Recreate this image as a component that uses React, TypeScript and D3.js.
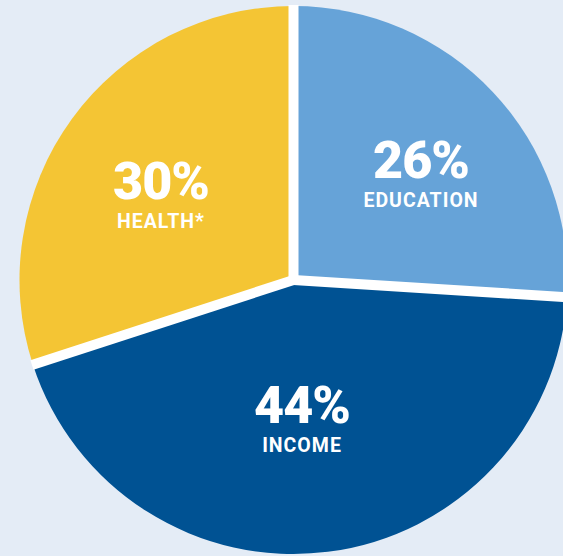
import React from "react";
import * as d3 from "d3";

const categories = ["EDUCATION", "INCOME", "HEALTH*"];
const values = [26, 44, 30];
const labels = ["26%", "44%", "30%"];
const colors = ["#66A3D8", "#005293", "#F4C534"];

const W = 563;
const H = 556;
const cx = 293.5;
const cy = 280;
const R = 274;

const labelPos: Record<string, [number, number]> = {
  "EDUCATION": [421, 178],
  "INCOME": [302, 423],
  "HEALTH*": [161, 199],
};

export default function App() {
  const pie = d3.pie<number>().sort(null).startAngle(0).endAngle(2 * Math.PI);
  const arcs = pie(values);
  const arcGen = d3.arc<d3.PieArcDatum<number>>().innerRadius(0).outerRadius(R);
  const boundaries = arcs.map((a) => a.startAngle);
  return (
    <div style={{ position: "fixed", left: 0, top: 0, width: W, height: H, background: "#E4ECF6" }}>
      <svg width={W} height={H} style={{ display: "block" }}>
        <rect x={0} y={0} width={W} height={H} fill="#E4ECF6" />
        <g transform={`translate(${cx},${cy})`}>
          {arcs.map((a, i) => (
            <path key={i} d={arcGen(a) || ""} fill={colors[i]} />
          ))}
          {boundaries.map((ang, i) => (
            <line
              key={"b" + i}
              x1={0}
              y1={0}
              x2={Math.sin(ang) * (R + 1)}
              y2={-Math.cos(ang) * (R + 1)}
              stroke="#FFFFFF"
              strokeWidth={10}
              strokeLinecap="butt"
            />
          ))}
          <circle r={5} fill="#FFFFFF" />
        </g>
        {categories.map((c, i) => {
          const [x, y] = labelPos[c];
          return (
            <g key={"t" + i} fill="#FFFFFF" fontFamily="Roboto, 'Noto Sans', sans-serif" fontWeight={900} textAnchor="middle">
              <text x={x} y={y} fontSize={52} letterSpacing={-1}>{labels[i]}</text>
              <text x={x} y={y + 29} fontSize={19.5} fontWeight={700} letterSpacing={1}>{c}</text>
            </g>
          );
        })}
      </svg>
    </div>
  );
}
